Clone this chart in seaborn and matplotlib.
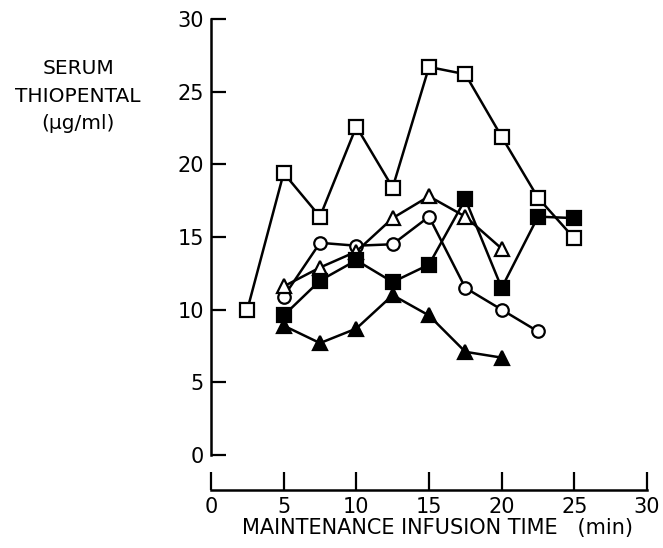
"""Serum thiopental vs maintenance infusion time, five subjects."""
import numpy as np
import pandas as pd
import seaborn as sns
from matplotlib import pyplot as plt

# minutes of maintenance infusion
time_open_sq = [2.5, 5, 7.5, 10, 12.5, 15, 17.5, 20, 22.5, 25]
conc_open_sq = [10.0, 19.4, 16.4, 22.6, 18.4, 26.7, 26.2, 21.9, 17.7, 14.9]

time_open_tri = [5, 7.5, 10, 12.5, 15, 17.5, 20]
conc_open_tri = [11.6, 12.9, 14.0, 16.3, 17.8, 16.4, 14.2]

time_open_circ = [5, 7.5, 10, 12.5, 15, 17.5, 20, 22.5]
conc_open_circ = [10.9, 14.6, 14.4, 14.5, 16.4, 11.5, 10.0, 8.5]

time_fill_sq = [5, 7.5, 10, 12.5, 15, 17.5, 20, 22.5, 25]
conc_fill_sq = [9.6, 12.0, 13.4, 11.9, 13.1, 17.6, 11.5, 16.4, 16.3]

time_fill_tri = [5, 7.5, 10, 12.5, 15, 17.5, 20]
conc_fill_tri = [8.9, 7.7, 8.7, 11.0, 9.6, 7.1, 6.7]

x_ticks = [0, 5, 10, 15, 20, 25, 30]
y_ticks = [0, 5, 10, 15, 20, 25, 30]

sns.set_style("ticks")
plt.rcParams["font.family"] = ["DejaVu Sans"]
plt.rcParams["text.color"] = "black"
plt.rcParams["axes.labelcolor"] = "black"
plt.rcParams["xtick.color"] = "black"
plt.rcParams["ytick.color"] = "black"
plt.rcParams["axes.edgecolor"] = "black"

fig = plt.figure(figsize=(6.63, 5.48), dpi=100)
ax = fig.add_axes([211 / 663, 1 - 455 / 548, (647 - 211) / 663, (455 - 19) / 548])

series = [
    (time_open_sq, conc_open_sq, "s", "white", 9.5),
    (time_open_circ, conc_open_circ, "o", "white", 9),
    (time_open_tri, conc_open_tri, "^", "white", 10),
    (time_fill_sq, conc_fill_sq, "s", "black", 9.5),
    (time_fill_tri, conc_fill_tri, "^", "black", 10),
]
for i, (t, c, mk, fc, ms) in enumerate(series):
    df = pd.DataFrame({"time": t, "conc": c})
    sns.lineplot(data=df, x="time", y="conc", ax=ax, color="black", lw=1.8,
                 marker=mk, markersize=ms, markerfacecolor=fc,
                 markeredgecolor="black", markeredgewidth=1.6, zorder=3 + i)

ax.set_xlim(0, 30)
ax.set_ylim(0, 30)
ax.set_xticks(x_ticks)
ax.set_yticks(y_ticks)
ax.set_xticklabels([str(v) for v in x_ticks])
ax.set_yticklabels([str(v) for v in y_ticks])
ax.spines["top"].set_visible(False)
ax.spines["right"].set_visible(False)
ax.spines["bottom"].set_position(("outward", 25))
for s in ("left", "bottom"):
    ax.spines[s].set_linewidth(1.8)
ax.tick_params(axis="x", direction="in", length=13, width=1.6, pad=5, labelsize=15)
ax.tick_params(axis="y", direction="in", length=11, width=1.6, pad=5, labelsize=15)

ax.set_xlabel("MAINTENANCE INFUSION TIME   (min)", fontsize=15)
ax.xaxis.set_label_coords((437 - 211) / 436, -0.145)
ax.set_ylabel("")

fig.text(78 / 663, 1 - 96 / 548, "SERUM\nTHIOPENTAL\n(\u03bcg/ml)", ha="center",
         va="center", fontsize=14.5, linespacing=1.55)

plt.savefig("out.png", dpi=100)
